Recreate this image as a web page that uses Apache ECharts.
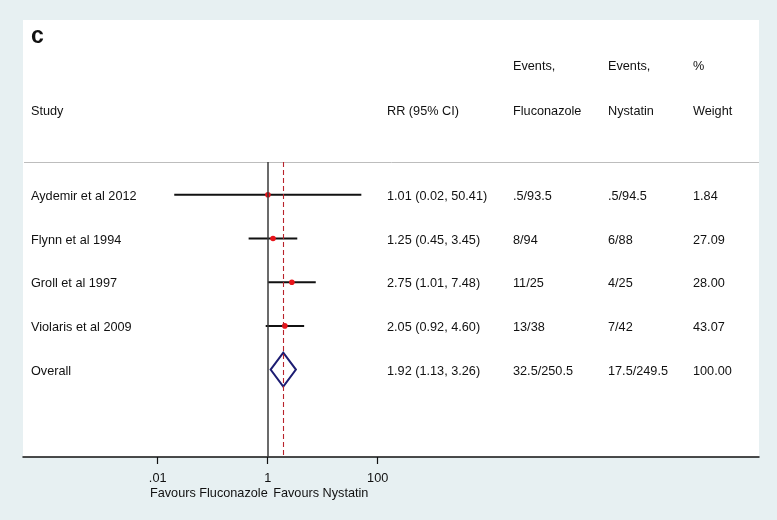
<!DOCTYPE html>
<html>
<head>
<meta charset="utf-8">
<script src="https://cdn.jsdelivr.net/npm/echarts@6/dist/echarts.min.js"></script>
<style>
html,body{margin:0;padding:0;background:#e7f0f2;}
#chart{width:777px;height:520px;}
</style>
</head>
<body>
<div id="chart"></div>
<script>
// ---- data ----
const studies = ['Aydemir et al 2012', 'Flynn et al 1994', 'Groll et al 1997', 'Violaris et al 2009', 'Overall'];
const rr = [1.01, 1.25, 2.75, 2.05, 1.92];
const ciLow = [0.02, 0.45, 1.01, 0.92, 1.13];
const ciHigh = [50.41, 3.45, 7.48, 4.60, 3.26];
const eventsFluconazole = ['.5/93.5', '8/94', '11/25', '13/38', '32.5/250.5'];
const eventsNystatin = ['.5/94.5', '6/88', '4/25', '7/42', '17.5/249.5'];
const weights = ['1.84', '27.09', '28.00', '43.07', '100.00'];
const tickValues = [0.01, 1, 100];
const tickLabels = ['.01', '1', '100'];
const overallIndex = 4;

const FONT = '"Liberation Sans", Arial, Helvetica, sans-serif';
const chart = echarts.init(document.getElementById('chart'), null, {renderer: 'canvas'});

const forestData = studies.map((s, i) => [ciLow[i], ciHigh[i], rr[i], i, i === overallIndex ? 1 : 0]);

chart.setOption({
  backgroundColor: '#e7f0f2',
  animation: false,
  grid: {left: 23, right: 18, top: 20, bottom: 63, show: true, backgroundColor: '#ffffff', borderWidth: 0},
  xAxis: {
    type: 'log', logBase: 10,
    min: Math.pow(10, -4.449), max: Math.pow(10, 8.933),
    axisLine: {show: true, onZero: false, lineStyle: {color: '#111', width: 1.5}},
    axisTick: {show: true, length: 7, inside: false, customValues: tickValues, lineStyle: {color: '#111', width: 1.2}},
    axisLabel: {
      customValues: tickValues, margin: 15, fontSize: 12.7, color: '#111', fontFamily: FONT,
      formatter: v => { const k = tickValues.findIndex(t => Math.abs(t - v) / t < 1e-6); return k >= 0 ? tickLabels[k] : ''; }
    },
    splitLine: {show: false}
  },
  yAxis: {type: 'value', inverse: true, min: -4, max: 6, show: false},
  series: [
    {
      type: 'custom',
      data: forestData,
      clip: false,
      encode: {x: [0, 1, 2], y: 3},
      renderItem: function (params, api) {
        const row = api.value(3);
        const l = api.coord([api.value(0), row]);
        const h = api.coord([api.value(1), row]);
        const p = api.coord([api.value(2), row]);
        if (api.value(4) === 1) {
          const hh = api.size([0, 0.39])[1];
          return {
            type: 'polygon', z2: 5,
            shape: {points: [[l[0], l[1]], [p[0], p[1] - hh], [h[0], h[1]], [p[0], p[1] + hh]]},
            style: {fill: 'rgba(255,255,255,0)', stroke: '#1c1c72', lineWidth: 2}
          };
        }
        return {
          type: 'group', children: [
            {type: 'line', shape: {x1: l[0], y1: l[1], x2: h[0], y2: h[1]}, style: {stroke: '#111', lineWidth: 2}},
            {type: 'circle', z2: 10, shape: {cx: p[0], cy: p[1], r: 2.8}, style: {fill: '#e8141a'}}
          ]
        };
      }
    },
    {
      type: 'line', data: [], silent: true,
      markLine: {
        silent: true, symbol: 'none', label: {show: false},
        data: [
          [{coord: [1, -0.75], lineStyle: {color: '#3a3a3a', width: 1.5, type: 'solid'}}, {coord: [1, 6]}],
          [{coord: [rr[overallIndex], -0.75], lineStyle: {color: '#b8232b', width: 1.1, type: [5, 3]}}, {coord: [rr[overallIndex], 6]}]
        ]
      }
    }
  ]
});

// ---- text table ----
const txt = (x, y, text, opts = {}) => ({
  type: 'text', x: x, y: y, silent: true,
  style: Object.assign({text: text, fontSize: 12.7, fontFamily: FONT, fill: '#111', textAlign: 'left', textVerticalAlign: 'middle'}, opts)
});
const rowY = i => chart.convertToPixel({yAxisIndex: 0}, i) + 1.5;
const cols = {study: 31, rr: 387, fluc: 513, nyst: 608, weight: 693};
const g = [];
g.push(txt(31, 37, 'c', {fontSize: 23, fontWeight: 'bold'}));
g.push(txt(cols.fluc, rowY(-2.98), 'Events,'));
g.push(txt(cols.nyst, rowY(-2.98), 'Events,'));
g.push(txt(cols.weight, rowY(-2.98), '%'));
g.push(txt(cols.study, rowY(-1.95), 'Study'));
g.push(txt(cols.rr, rowY(-1.95), 'RR (95% CI)'));
g.push(txt(cols.fluc, rowY(-1.95), 'Fluconazole'));
g.push(txt(cols.nyst, rowY(-1.95), 'Nystatin'));
g.push(txt(cols.weight, rowY(-1.95), 'Weight'));
const sepY = Math.round(chart.convertToPixel({yAxisIndex: 0}, -0.75)) + 0.5;
g.push({type: 'line', silent: true, shape: {x1: 24, y1: sepY, x2: 759, y2: sepY}, style: {stroke: '#bdbdbd', lineWidth: 1}});
studies.forEach((s, i) => {
  const y = rowY(i);
  g.push(txt(cols.study, y, s));
  g.push(txt(cols.rr, y, rr[i].toFixed(2) + ' (' + ciLow[i].toFixed(2) + ', ' + ciHigh[i].toFixed(2) + ')'));
  g.push(txt(cols.fluc, y, eventsFluconazole[i]));
  g.push(txt(cols.nyst, y, eventsNystatin[i]));
  g.push(txt(cols.weight, y, weights[i]));
});
const oneX = chart.convertToPixel({xAxisIndex: 0}, 1);
g.push(txt(oneX, 493.5, 'Favours Fluconazole', {textAlign: 'right'}));
g.push(txt(oneX + 5.5, 493.5, 'Favours Nystatin'));
chart.setOption({graphic: {elements: g}});
</script>
</body>
</html>
